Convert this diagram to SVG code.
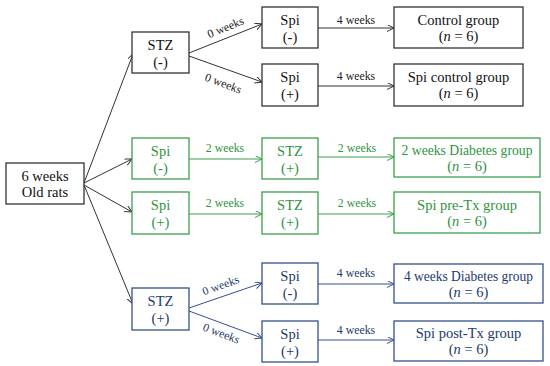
<svg xmlns="http://www.w3.org/2000/svg" width="550" height="366" viewBox="0 0 550 366">
<defs>
<marker id="ak" markerWidth="8" markerHeight="8" refX="7" refY="3.5" orient="auto" markerUnits="userSpaceOnUse"><path d="M0,0 L7,3.5 L0,7" fill="none" stroke="#333" stroke-width="1"/></marker>
<marker id="ag" markerWidth="8" markerHeight="8" refX="7" refY="3.5" orient="auto" markerUnits="userSpaceOnUse"><path d="M0,0 L7,3.5 L0,7" fill="none" stroke="#3d9e4c" stroke-width="1"/></marker>
<marker id="ab" markerWidth="8" markerHeight="8" refX="7" refY="3.5" orient="auto" markerUnits="userSpaceOnUse"><path d="M0,0 L7,3.5 L0,7" fill="none" stroke="#34508e" stroke-width="1"/></marker>
</defs>
<style>
text{font-family:"Liberation Serif","Times New Roman",serif;text-anchor:middle}
.n{font-size:14.5px}
.l{font-size:11.8px}
.bx{fill:#fff;stroke-width:1.3}
.k .bx{stroke:#333}.k text{fill:#111}
.g .bx{stroke:#3d9e4c}.g text{fill:#2f9440}
.b .bx{stroke:#34508e}.b text{fill:#22396e}
.ck{stroke:#333;stroke-width:1;fill:none;marker-end:url(#ak)}
.cg{stroke:#3d9e4c;stroke-width:1;fill:none;marker-end:url(#ag)}
.cb{stroke:#34508e;stroke-width:1;fill:none;marker-end:url(#ab)}
.lk{fill:#222}.lg{fill:#2f9440}.lb{fill:#22396e}
</style>
<rect width="550" height="366" fill="#fff"/>
<g id="connectors">
<path class="ck" d="M84,183 L133,54"/>
<path class="ck" d="M84,183 L132,159"/>
<path class="ck" d="M84,185 L132,212"/>
<path class="ck" d="M84,185 L133,304"/>
<path class="ck" d="M189,53 L262,24"/>
<path class="ck" d="M189,56 L262,82"/>
<path class="ck" d="M318,28 L394,28"/>
<path class="ck" d="M318,86 L394,86"/>
<path class="cg" d="M189,159 L262,159"/>
<path class="cg" d="M189,214 L262,214"/>
<path class="cg" d="M318,157 L394,157"/>
<path class="cg" d="M318,214 L394,214"/>
<path class="cb" d="M189,308 L262,283"/>
<path class="cb" d="M189,311 L262,338"/>
<path class="cb" d="M318,284 L394,284"/>
<path class="cb" d="M318,340 L394,340"/>
<text class="l lk" transform="translate(227,31) rotate(-22)">0 weeks</text>
<text class="l lk" transform="translate(222,87) rotate(21)">0 weeks</text>
<text class="l lk" x="356" y="24">4 weeks</text>
<text class="l lk" x="356" y="80">4 weeks</text>
<text class="l lg" x="225" y="152">2 weeks</text>
<text class="l lg" x="225" y="207">2 weeks</text>
<text class="l lg" x="357" y="152">2 weeks</text>
<text class="l lg" x="357" y="207">2 weeks</text>
<text class="l lb" transform="translate(222,289) rotate(-20)">0 weeks</text>
<text class="l lb" transform="translate(220,337) rotate(21)">0 weeks</text>
<text class="l lb" x="356" y="277">4 weeks</text>
<text class="l lb" x="356" y="334">4 weeks</text>
</g>
<g id="n-rats" class="k"><rect class="bx" x="6" y="163" width="78" height="41"/><text class="n" x="45" y="181">6 weeks</text><text class="n" x="45" y="197">Old rats</text></g>
<g id="n-stz-neg" class="k"><rect class="bx" x="132" y="32" width="57" height="41"/><text class="n" x="160.5" y="50">STZ</text><text class="n" x="160.5" y="67">(-)</text></g>
<g id="n-spi-neg-1" class="k"><rect class="bx" x="262" y="7" width="56" height="41"/><text class="n" x="290" y="25">Spi</text><text class="n" x="290" y="42">(-)</text></g>
<g id="n-spi-pos-1" class="k"><rect class="bx" x="262" y="64" width="56" height="42"/><text class="n" x="290" y="82">Spi</text><text class="n" x="290" y="99">(+)</text></g>
<g id="n-control" class="k"><rect class="bx" x="394" y="7" width="129" height="41"/><text class="n" x="458.5" y="25">Control group</text><text class="n" x="458.5" y="41">(<tspan font-style="italic">n</tspan> = 6)</text></g>
<g id="n-spi-control" class="k"><rect class="bx" x="394" y="64" width="129" height="42"/><text class="n" x="458.5" y="82">Spi control group</text><text class="n" x="458.5" y="98">(<tspan font-style="italic">n</tspan> = 6)</text></g>
<g id="n-spi-neg-2" class="g"><rect class="bx" x="132" y="138" width="57" height="41"/><text class="n" x="160.5" y="156">Spi</text><text class="n" x="160.5" y="173">(-)</text></g>
<g id="n-spi-pos-2" class="g"><rect class="bx" x="132" y="192" width="57" height="42"/><text class="n" x="160.5" y="210">Spi</text><text class="n" x="160.5" y="227">(+)</text></g>
<g id="n-stz-pos-2a" class="g"><rect class="bx" x="262" y="138" width="56" height="41"/><text class="n" x="290" y="156">STZ</text><text class="n" x="290" y="173">(+)</text></g>
<g id="n-stz-pos-2b" class="g"><rect class="bx" x="262" y="192" width="56" height="42"/><text class="n" x="290" y="210">STZ</text><text class="n" x="290" y="227">(+)</text></g>
<g id="n-diab2" class="g"><rect class="bx" x="394" y="138" width="146" height="39"/><text class="n" x="467" y="155" textLength="131" lengthAdjust="spacingAndGlyphs">2 weeks Diabetes group</text><text class="n" x="467" y="171">(<tspan font-style="italic">n</tspan> = 6)</text></g>
<g id="n-pretx" class="g"><rect class="bx" x="394" y="192" width="146" height="41"/><text class="n" x="467" y="210">Spi pre-Tx group</text><text class="n" x="467" y="226">(<tspan font-style="italic">n</tspan> = 6)</text></g>
<g id="n-stz-pos-3" class="b"><rect class="bx" x="132" y="288" width="57" height="42"/><text class="n" x="160.5" y="306">STZ</text><text class="n" x="160.5" y="323">(+)</text></g>
<g id="n-spi-neg-3" class="b"><rect class="bx" x="262" y="263" width="56" height="41"/><text class="n" x="290" y="281">Spi</text><text class="n" x="290" y="298">(-)</text></g>
<g id="n-spi-pos-3" class="b"><rect class="bx" x="262" y="321" width="56" height="41"/><text class="n" x="290" y="339">Spi</text><text class="n" x="290" y="356">(+)</text></g>
<g id="n-diab4" class="b"><rect class="bx" x="394" y="264" width="149" height="39"/><text class="n" x="468.5" y="281" textLength="129" lengthAdjust="spacingAndGlyphs">4 weeks Diabetes group</text><text class="n" x="468.5" y="297">(<tspan font-style="italic">n</tspan> = 6)</text></g>
<g id="n-posttx" class="b"><rect class="bx" x="394" y="321" width="149" height="40"/><text class="n" x="468.5" y="338">Spi post-Tx group</text><text class="n" x="468.5" y="354">(<tspan font-style="italic">n</tspan> = 6)</text></g>
</svg>
